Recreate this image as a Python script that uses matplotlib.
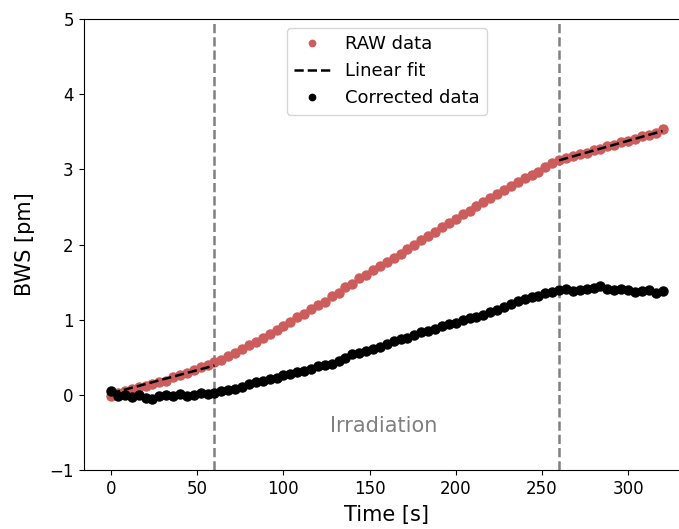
import numpy as np
import matplotlib
matplotlib.use("Agg")
import matplotlib.pyplot as plt

time_s = list(range(0, 321, 4))

raw_bws = [-0.02, 0.03, 0.05, 0.08, 0.10, 0.12, 0.15, 0.17, 0.19, 0.24,
           0.27, 0.29, 0.33, 0.37, 0.40, 0.44, 0.47, 0.52, 0.56, 0.61,
           0.66, 0.70, 0.76, 0.81, 0.86, 0.92, 0.97, 1.03, 1.08, 1.14,
           1.19, 1.24, 1.31, 1.36, 1.43, 1.48, 1.55, 1.60, 1.66, 1.71,
           1.77, 1.82, 1.88, 1.94, 1.99, 2.06, 2.11, 2.16, 2.23, 2.28,
           2.34, 2.40, 2.45, 2.51, 2.57, 2.62, 2.67, 2.73, 2.78, 2.83,
           2.88, 2.93, 2.97, 3.03, 3.08, 3.13, 3.15, 3.18, 3.20, 3.22,
           3.26, 3.27, 3.31, 3.33, 3.36, 3.38, 3.41, 3.44, 3.46, 3.49,
           3.53]

corrected_bws = [0.05, -0.02, 0.00, -0.03, 0.00, -0.04, -0.05, -0.02, 0.00, -0.01,
                 0.01, -0.02, 0.00, 0.03, 0.01, 0.03, 0.05, 0.06, 0.08, 0.10,
                 0.14, 0.17, 0.19, 0.21, 0.23, 0.26, 0.28, 0.30, 0.32, 0.35,
                 0.38, 0.40, 0.41, 0.45, 0.49, 0.54, 0.56, 0.58, 0.61, 0.64,
                 0.67, 0.71, 0.74, 0.76, 0.79, 0.83, 0.85, 0.88, 0.92, 0.94,
                 0.96, 0.99, 1.02, 1.03, 1.06, 1.10, 1.13, 1.17, 1.21, 1.25,
                 1.28, 1.30, 1.31, 1.35, 1.37, 1.40, 1.41, 1.38, 1.39, 1.41,
                 1.42, 1.45, 1.41, 1.39, 1.41, 1.39, 1.37, 1.38, 1.39, 1.36,
                 1.38]

fit1_t = [0, 60]
fit1_y = [0.02, 0.39]
fit2_t = [260, 320]
fit2_y = [3.12, 3.51]

irradiation_bounds = [60, 260]

fig = plt.figure(figsize=(6.79, 5.29), dpi=100)
ax = fig.add_axes([83.5 / 679, 59 / 529, 606.6 / 679, 451 / 529])

ax.plot(time_s, raw_bws, 'o', color='indianred', markersize=6.5, label='RAW data', zorder=2)
ax.plot(fit1_t, fit1_y, '--', color='black', lw=1.8, label='Linear fit', zorder=3)
ax.plot(fit2_t, fit2_y, '--', color='black', lw=1.8, zorder=3)
ax.plot(time_s, corrected_bws, 'o', color='black', markersize=6.5, label='Corrected data', zorder=2)

for xb in irradiation_bounds:
    ax.axvline(xb, color='gray', ls='--', lw=1.8, zorder=1)

ax.text(158, -0.42, 'Irradiation', color='gray', fontsize=15, ha='center', va='center')

ax.set_xlim(-16, 336)
ax.set_ylim(-1, 5)
ax.set_xticks([0, 50, 100, 150, 200, 250, 300])
ax.set_yticks([-1, 0, 1, 2, 3, 4, 5])
ax.tick_params(labelsize=12)
ax.set_xlabel('Time [s]', fontsize=15, labelpad=5)
ax.set_ylabel('BWS [pm]', fontsize=15, labelpad=10)
ax.spines['right'].set_visible(False)

ax.legend(loc='upper center', fontsize=13, markerscale=0.7)

fig.savefig('out.png', dpi=100)
